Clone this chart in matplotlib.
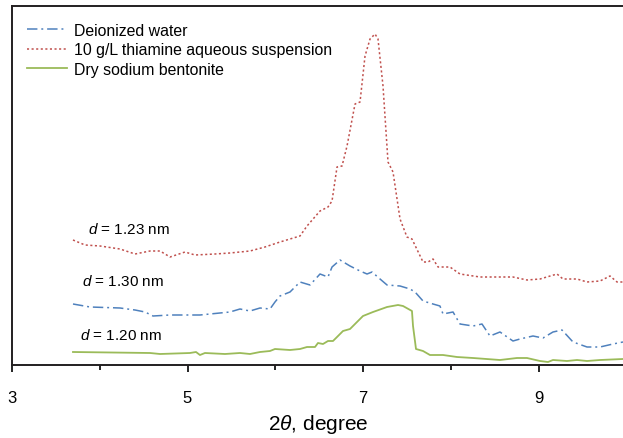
import matplotlib
matplotlib.use("Agg")
import matplotlib.pyplot as plt
from matplotlib.ticker import MultipleLocator

plt.rcParams['font.family'] = ['Liberation Sans', 'DejaVu Sans']
plt.rcParams['mathtext.fontset'] = 'custom'
plt.rcParams['mathtext.it'] = 'Liberation Sans:italic'
plt.rcParams['mathtext.rm'] = 'Liberation Sans'

# ---- data (2theta in degree, intensity in arbitrary units) ----
red_x = [3.695, 3.832, 4.003, 4.231, 4.402, 4.573, 4.687, 4.801, 4.972, 5.085, 5.313, 5.484,
         5.712, 5.883, 6.054, 6.168, 6.282, 6.362, 6.510, 6.601, 6.647, 6.704, 6.761, 6.818,
         6.909, 6.966, 7.023, 7.080, 7.137, 7.171, 7.228, 7.285, 7.342, 7.422, 7.501, 7.558,
         7.684, 7.741, 7.798, 7.855, 7.991, 8.105, 8.333, 8.561, 8.709, 8.869, 9.017, 9.211,
         9.279, 9.439, 9.553, 9.701, 9.815, 9.895, 9.963]
red_y = [125, 120, 119, 116, 111, 114, 114, 108, 113, 110, 111, 112,
         114, 118, 123, 126, 129, 139, 154, 158, 164, 198, 199, 219,
         261, 263, 309, 326, 331, 326, 279, 203, 193, 146, 128, 126,
         103, 103, 106, 98, 98, 91, 88, 88, 88, 85, 86, 91,
         86, 86, 83, 84, 89, 83, 83]

blue_x = [3.695, 3.889, 4.231, 4.402, 4.516, 4.607, 4.801, 5.142, 5.484, 5.598, 5.712, 5.826,
          5.940, 5.997, 6.054, 6.168, 6.282, 6.396, 6.510, 6.601, 6.647, 6.738, 6.852, 6.966,
          7.046, 7.103, 7.194, 7.274, 7.422, 7.536, 7.593, 7.684, 7.798, 7.877, 7.912, 8.026,
          8.105, 8.254, 8.356, 8.447, 8.561, 8.709, 8.789, 8.937, 9.051, 9.165, 9.268, 9.393,
          9.553, 9.701, 9.849, 9.963]
blue_y = [61, 58, 57, 55, 53, 49, 50, 50, 53, 56, 54, 57,
          56, 63, 69, 73, 83, 80, 91, 88, 98, 105, 99, 94,
          91, 93, 86, 80, 79, 76, 73, 64, 61, 59, 51, 53,
          41, 39, 41, 29, 33, 24, 26, 29, 27, 33, 35, 23,
          18, 18, 21, 23]

green_x = [3.695, 4.573, 4.687, 5.028, 5.097, 5.142, 5.199, 5.427, 5.598, 5.712, 5.826, 5.940,
           5.997, 6.168, 6.282, 6.362, 6.453, 6.487, 6.544, 6.601, 6.658, 6.704, 6.772, 6.852,
           6.943, 7.000, 7.114, 7.274, 7.399, 7.456, 7.558, 7.570, 7.604, 7.684, 7.763, 7.912,
           8.071, 8.254, 8.561, 8.755, 8.869, 9.017, 9.108, 9.165, 9.325, 9.439, 9.553, 9.701,
           9.963]
green_y = [13, 12, 11, 12, 13, 10, 12, 11, 12, 11, 13, 14,
           16, 15, 16, 18, 18, 22, 21, 24, 24, 28, 34, 36,
           44, 49, 53, 58, 60, 59, 54, 39, 16, 14, 10, 10,
           8, 7, 5, 7, 7, 4, 3, 5, 4, 5, 4, 5,
           6]

labels = ["Deionized water", "10 g/L thiamine aqueous suspension", "Dry sodium bentonite"]
annotations = [r"$d$ = 1.23 nm", r"$d$ = 1.30 nm", r"$d$ = 1.20 nm"]
ann_x = [3.866, 3.798, 3.775]
ann_y = [136, 84, 30]
xticks = [3, 5, 7, 9]

W, H = 623, 439
fig = plt.figure(figsize=(W / 100, H / 100), dpi=100)
ax = fig.add_axes([12 / W, (H - 366) / H, (W - 12) / W, (366 - 7) / H])

lw = 1.1
l1, = ax.plot(blue_x, blue_y, color='#4F81BD', lw=lw,
              linestyle=(0, (7.5 / lw, 2.8 / lw, 1.4 / lw, 2.8 / lw)), label=labels[0])
l2, = ax.plot(red_x, red_y, color='#C0504D', lw=lw,
              linestyle=(0, (1.5 / lw, 1.8 / lw)), label=labels[1])
l3, = ax.plot(green_x, green_y, color='#9BBB59', lw=lw + 0.2, linestyle='-', label=labels[2])

for t, x, y in zip(annotations, ann_x, ann_y):
    ax.text(x, y, t, fontsize=11, va='center', ha='left')

ax.set_xlim(3, 3 + (W - 12) / 87.75)
ax.set_ylim(0, 359)
ax.set_xticks(xticks)
ax.set_xticklabels([str(v) for v in xticks])
ax.xaxis.set_minor_locator(MultipleLocator(1))
ax.tick_params(axis='x', which='major', direction='out', length=5, width=1.2, labelsize=12, pad=13)
ax.tick_params(axis='x', which='minor', direction='out', length=3.5, width=1.2)
ax.set_yticks([])
for s in ['left', 'bottom', 'top']:
    ax.spines[s].set_linewidth(1.4)
    ax.spines[s].set_color('#231f20')
ax.spines['right'].set_visible(False)

ax.set_xlabel(r"2$\mathit{\theta}$, degree", fontsize=15)
ax.xaxis.set_label_coords((318 - 12) / (W - 12), (366 - 425) / 359)
ax.xaxis.label.set_va('center')

fig.legend(handles=[l1, l2, l3], labels=labels, loc='upper left',
           bbox_to_anchor=(27 / W, 1 - 24 / H), frameon=False, fontsize=11.4,
           handlelength=2.5, handletextpad=0.45, labelspacing=0.28,
           borderpad=0, borderaxespad=0)

fig.savefig("out.png", dpi=100)
